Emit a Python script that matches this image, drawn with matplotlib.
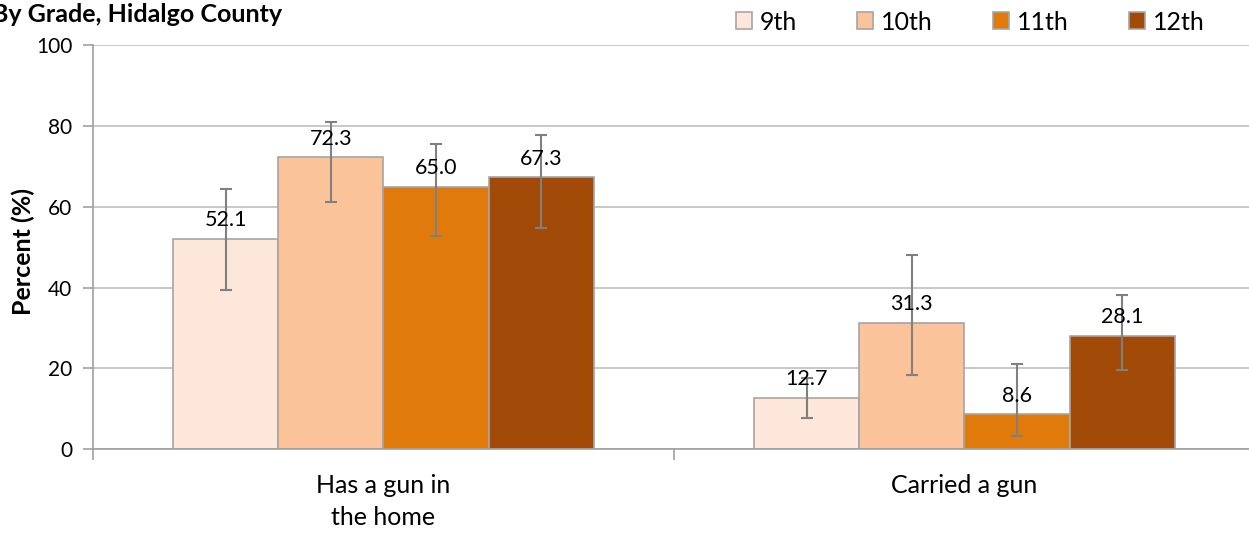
import numpy as np
import matplotlib
matplotlib.use('Agg')
import matplotlib.pyplot as plt
from matplotlib.patches import Patch

plt.rcParams['font.family'] = ['Lato', 'DejaVu Sans']

# 数据
categories = ['Has a gun in\nthe home', 'Carried a gun']
grades = ['9th', '10th', '11th', '12th']
pct_9 = [52.1, 12.7]
pct_10 = [72.3, 31.3]
pct_11 = [65.0, 8.6]
pct_12 = [67.3, 28.1]
low_9 = [39.3, 7.8]
low_10 = [61.2, 18.3]
low_11 = [52.7, 3.1]
low_12 = [54.7, 19.6]
high_9 = [64.5, 17.5]
high_10 = [81.1, 48.0]
high_11 = [75.6, 21.1]
high_12 = [77.8, 38.2]

colors = ['#FDE6DA', '#FBC399', '#E07B0B', '#A24A07']
values = [pct_9, pct_10, pct_11, pct_12]
lows = [low_9, low_10, low_11, low_12]
highs = [high_9, high_10, high_11, high_12]

fig = plt.figure(figsize=(12.49, 5.33), dpi=100)
ax = fig.add_axes([93 / 1249, 1 - 449 / 533, 1162 / 1249, (449 - 45.3) / 533])

x = np.arange(len(categories))
width = 0.181
for i in range(4):
    pos = x + (i - 1.5) * width
    v = np.array(values[i])
    yerr = [v - np.array(lows[i]), np.array(highs[i]) - v]
    ax.bar(pos, v, width, color=colors[i], edgecolor='#A6A6A6', linewidth=1.2, zorder=2)
    ax.errorbar(pos, v, yerr=yerr, fmt='none', ecolor='#808080', elinewidth=1.5,
                capsize=4, capthick=1.5, zorder=3)
    for px, val in zip(pos, v):
        ax.annotate('%.1f' % val, (px, val), xytext=(0, 6), textcoords='offset points',
                    ha='center', va='bottom', fontsize=15.5, zorder=4)

ax.set_xlim(-0.5, 1.5)
ax.set_ylim(0, 100)
ax.set_yticks(range(0, 101, 20))
ax.yaxis.grid(True, color='#BFBFBF', linewidth=1.2)
ax.set_axisbelow(True)
ax.tick_params(axis='y', labelsize=15, length=7, color='#A0A0A0', width=1.2, pad=8)

ax.set_xticks([-0.5, 0.5, 1.5])
ax.set_xticklabels([])
ax.tick_params(axis='x', which='major', length=8, color='#A0A0A0', width=1.2)
ax.set_xticks(x, minor=True)
ax.set_xticklabels(categories, minor=True, fontsize=18, linespacing=1.45)
ax.tick_params(axis='x', which='minor', length=0, pad=18)

for s in ['top', 'right']:
    ax.spines[s].set_visible(False)
for s in ['left', 'bottom']:
    ax.spines[s].set_color('#A0A0A0')
    ax.spines[s].set_linewidth(1.2)

ax.set_ylabel('Percent (%)', fontsize=18, fontweight='bold')
ax.yaxis.set_label_coords((35 - 93) / 1162, 0.488)

fig.text(-8 / 1249, 1 - 15 / 533, 'By Grade, Hidalgo County', fontsize=18, fontweight='bold',
         ha='left', va='center')

handles = [Patch(facecolor=c, edgecolor='#A6A6A6', linewidth=1.2) for c in colors]
fig.legend(handles, grades, loc='center left', bbox_to_anchor=(736 / 1249, 1 - 22 / 533), ncol=4,
           frameon=False, fontsize=18, handlelength=0.64, handleheight=0.64,
           handletextpad=0.32, columnspacing=2.4, borderpad=0, borderaxespad=0)

plt.savefig('out.png', dpi=100)
